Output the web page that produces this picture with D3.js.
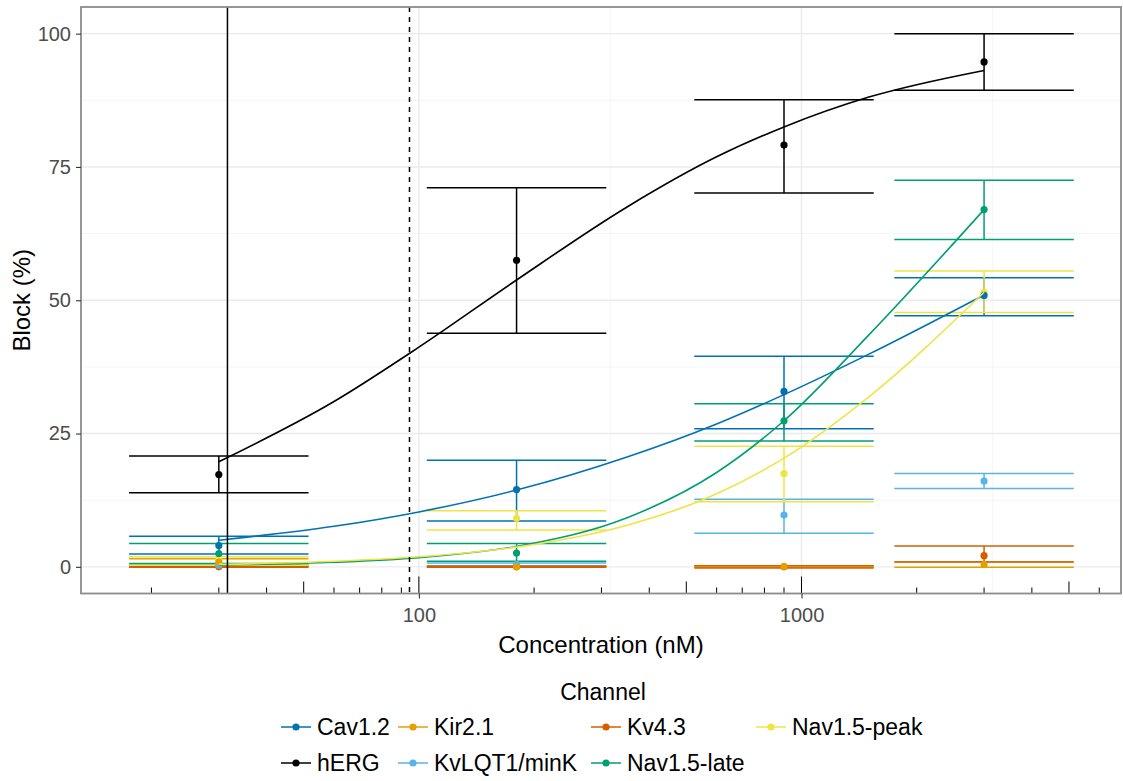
<!DOCTYPE html>
<html>
<head>
<meta charset="utf-8">
<script src="https://cdn.jsdelivr.net/npm/d3@7"></script>
<style>
  body { margin: 0; background: #fff; }
  text { font-family: "Liberation Sans", Arial, sans-serif; }
</style>
</head>
<body>
<div id="chart"></div>
<script>
// channels, in legend order (filled column by column, 2 rows)
var channels = ["Cav1.2", "hERG", "Kir2.1", "KvLQT1/minK", "Kv4.3", "Nav1.5-late", "Nav1.5-peak"];
var channelColors = ["#0072B2", "#000000", "#E69F00", "#56B4E9", "#D55E00", "#009E73", "#F0E442"];

// tested concentrations (nM)
var concentrations = [30, 180, 900, 3000];

// block (%) per channel at each concentration, with error bar limits
var blockMean = [
  [4.0, 14.5, 32.9, 50.9],
  [17.3, 57.5, 79.1, 94.7],
  [0.9, 0.0, 0.1, 0.4],
  [0.3, 0.45, 9.7, 16.1],
  [0.0, 0.0, 0.0, 2.1],
  [2.5, 2.6, 27.4, 67.0],
  [1.2, 9.1, 17.5, 51.5]
];
var blockLow = [
  [2.4, 8.6, 25.9, 47.1],
  [13.9, 43.8, 70.1, 89.4],
  [0.3, -0.1, -0.1, -0.1],
  [0.1, 0.2, 6.3, 14.7],
  [-0.1, -0.1, -0.2, 0.9],
  [0.65, 1.07, 23.6, 61.4],
  [0.3, 6.9, 12.2, 47.7]
];
var blockHigh = [
  [5.75, 20.0, 39.5, 54.2],
  [20.8, 71.1, 87.6, 100.0],
  [1.5, 0.1, 0.2, 0.95],
  [0.5, 0.7, 12.7, 17.5],
  [0.1, 0.1, 0.2, 3.9],
  [4.4, 4.4, 30.6, 72.5],
  [1.9, 10.5, 22.6, 55.5]
];

// fitted curves
var curveChannels = ["hERG", "Cav1.2", "Nav1.5-late", "Nav1.5-peak"];
var curveConc = [30, 60, 100, 180, 350, 600, 900, 1500, 3000];
var curveBlock = [
  [19.7, 31.0, 41.2, 53.8, 67.5, 76.9, 82.5, 88.1, 93.1],
  [5.0, 7.6, 10.3, 14.4, 20.6, 26.8, 32.3, 39.9, 51.0],
  [0.33, 0.85, 1.72, 3.83, 9.2, 17.7, 27.4, 43.5, 67.0],
  [0.46, 1.04, 1.88, 3.7, 7.8, 13.7, 20.4, 31.9, 51.5]
];

// reference concentrations (vertical lines)
var cmaxSolid = 31.6;
var cmaxDashed = 94.5;

// axis ticks and grid
var xTicks = [100, 1000];
var xMinorGrid = [31.62, 316.2, 3162];
var yTicks = [0, 25, 50, 75, 100];
var yMinorGrid = [12.5, 37.5, 62.5, 87.5];

var width = 1123, height = 781;
var pLeft = 81, pRight = 1121, pTop = 7, pBottom = 593.5;
var ebHalf = 0.2345; // errorbar half width, in log10 units

var svg = d3.select("#chart")
  .append("svg")
    .attr("width", width)
    .attr("height", height);

var x = d3.scaleLog().domain([13.09, 6839]).range([pLeft, pRight]);
var y = d3.scaleLinear().domain([-5, 105]).range([pBottom, pTop]);

// grid
var grid = svg.append("g");
grid.selectAll(".ymin").data(yMinorGrid).enter().append("line")
  .attr("x1", pLeft).attr("x2", pRight)
  .attr("y1", function(d) { return y(d); }).attr("y2", function(d) { return y(d); })
  .attr("stroke", "#F2F2F2").attr("stroke-width", 0.8);
grid.selectAll(".xmin").data(xMinorGrid).enter().append("line")
  .attr("y1", pTop).attr("y2", pBottom)
  .attr("x1", function(d) { return x(d); }).attr("x2", function(d) { return x(d); })
  .attr("stroke", "#F2F2F2").attr("stroke-width", 0.8);
grid.selectAll(".ymaj").data(yTicks).enter().append("line")
  .attr("x1", pLeft).attr("x2", pRight)
  .attr("y1", function(d) { return y(d); }).attr("y2", function(d) { return y(d); })
  .attr("stroke", "#EBEBEB").attr("stroke-width", 1.4);
grid.selectAll(".xmaj").data(xTicks).enter().append("line")
  .attr("y1", pTop).attr("y2", pBottom)
  .attr("x1", function(d) { return x(d); }).attr("x2", function(d) { return x(d); })
  .attr("stroke", "#EBEBEB").attr("stroke-width", 1.4);

// build rows
var rows = [];
channels.forEach(function(ch, i) {
  concentrations.forEach(function(c, j) {
    rows.push({ channel: ch, color: channelColors[i], conc: c,
      mean: blockMean[i][j], lo: blockLow[i][j], hi: blockHigh[i][j] });
  });
});

// error bars
var eb = svg.append("g").attr("fill", "none").attr("stroke-width", 1.5);
rows.forEach(function(d) {
  var x0 = x(d.conc * Math.pow(10, -ebHalf)), x1 = x(d.conc * Math.pow(10, ebHalf));
  var g = eb.append("g").attr("stroke", d.color);
  g.append("line").attr("x1", x0).attr("x2", x1).attr("y1", y(d.hi)).attr("y2", y(d.hi));
  g.append("line").attr("x1", x0).attr("x2", x1).attr("y1", y(d.lo)).attr("y2", y(d.lo));
  g.append("line").attr("x1", x(d.conc)).attr("x2", x(d.conc)).attr("y1", y(d.hi)).attr("y2", y(d.lo));
});

// points
svg.append("g").selectAll("circle")
  .data(rows.slice().reverse())
  .enter().append("circle")
    .attr("cx", function(d) { return x(d.conc); })
    .attr("cy", function(d) { return y(d.mean); })
    .attr("r", 3.6)
    .attr("fill", function(d) { return d.color; });

// fitted curves
var line = d3.line()
  .curve(d3.curveMonotoneX)
  .x(function(d) { return x(d[0]); })
  .y(function(d) { return y(d[1]); });
curveChannels.forEach(function(ch, i) {
  svg.append("path")
    .datum(curveConc.map(function(c, j) { return [c, curveBlock[i][j]]; }))
    .attr("fill", "none")
    .attr("stroke", channelColors[channels.indexOf(ch)])
    .attr("stroke-width", 1.6)
    .attr("d", line);
});

// log ticks along the bottom of the panel
var logTicks = [];
for (var k = 1; k <= 3; k++) {
  for (var m = 1; m <= 9; m++) {
    var v = m * Math.pow(10, k);
    if (v > x.domain()[0] && v < x.domain()[1]) logTicks.push({ v: v, len: m == 1 ? 17 : (m == 5 ? 12 : 6) });
  }
}
svg.append("g").selectAll("line")
  .data(logTicks)
  .enter().append("line")
    .attr("x1", function(d) { return x(d.v); }).attr("x2", function(d) { return x(d.v); })
    .attr("y1", pBottom).attr("y2", function(d) { return pBottom - d.len; })
    .attr("stroke", "#000").attr("stroke-width", 1);

// reference lines
svg.append("line")
  .attr("x1", x(cmaxSolid)).attr("x2", x(cmaxSolid))
  .attr("y1", pTop).attr("y2", pBottom)
  .attr("stroke", "#000").attr("stroke-width", 1.5);
svg.append("line")
  .attr("x1", x(cmaxDashed)).attr("x2", x(cmaxDashed))
  .attr("y1", pTop).attr("y2", pBottom)
  .attr("stroke", "#000").attr("stroke-width", 1.5)
  .attr("stroke-dasharray", "5,5");

// panel border
svg.append("rect")
  .attr("x", pLeft).attr("y", pTop)
  .attr("width", pRight - pLeft).attr("height", pBottom - pTop)
  .attr("fill", "none").attr("stroke", "#8C8C8C").attr("stroke-width", 1.8);

// axes
var xAxis = svg.append("g")
  .attr("transform", "translate(0," + pBottom + ")")
  .call(d3.axisBottom(x).tickValues(xTicks).tickFormat(d3.format("d")).tickSize(5).tickPadding(9));
var yAxis = svg.append("g")
  .attr("transform", "translate(" + pLeft + ",0)")
  .call(d3.axisLeft(y).tickValues(yTicks).tickSize(5).tickPadding(5));
[xAxis, yAxis].forEach(function(a) {
  a.select(".domain").remove();
  a.selectAll(".tick line").attr("stroke", "#333").attr("stroke-width", 1.1);
  a.selectAll(".tick text").attr("fill", "#4D4D4D").style("font-size", "20px")
    .style("font-family", "'Liberation Sans', Arial, sans-serif");
});

// axis titles
svg.append("text")
  .attr("x", (pLeft + pRight) / 2).attr("y", 653)
  .attr("text-anchor", "middle")
  .style("font-size", "24px")
  .text("Concentration (nM)");
svg.append("text")
  .attr("transform", "translate(30," + ((pTop + pBottom) / 2) + ") rotate(-90)")
  .attr("text-anchor", "middle")
  .style("font-size", "24px")
  .text("Block (%)");

// legend
var legX = [281, 398, 591, 756];
var legY = [727, 763];
svg.append("text")
  .attr("x", 603).attr("y", 700)
  .attr("text-anchor", "middle")
  .style("font-size", "23px")
  .text("Channel");
var leg = svg.append("g");
channels.forEach(function(ch, i) {
  var gx = legX[Math.floor(i / 2)], gy = legY[i % 2];
  var g = leg.append("g").attr("transform", "translate(" + gx + "," + gy + ")");
  g.append("line").attr("x1", 0).attr("x2", 30).attr("y1", 0).attr("y2", 0)
    .attr("stroke", channelColors[i]).attr("stroke-width", 1.5);
  g.append("circle").attr("cx", 15).attr("cy", 0).attr("r", 3.6).attr("fill", channelColors[i]);
  g.append("text").attr("x", 36).attr("y", 8)
    .style("font-size", "23px")
    .text(ch);
});
</script>
</body>
</html>
